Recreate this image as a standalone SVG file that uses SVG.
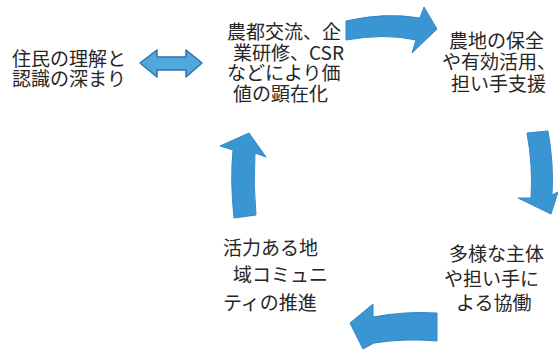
<svg xmlns="http://www.w3.org/2000/svg" width="558" height="349" viewBox="0 0 558 349">
<style>
text{font-family:"Noto Sans CJK JP","Noto Sans",sans-serif;font-size:19px;fill:#262626;}
.arr{fill:#3a95d3;stroke:#3388c8;stroke-width:1;}
.dbl{fill:#52a8dd;stroke:#2a74ad;stroke-width:1.5;stroke-linejoin:round;}
</style>
<rect width="558" height="349" fill="#ffffff"/>
<g id="connectors">
<path class="dbl" d="M140,63 L157,50 L157,57 L186,57 L186,50 L202,63 L186,77 L186,70 L157,70 L157,77 Z"/>
<path class="arr" d="M346,21 Q385,12 420,18 L424,7 L437,29 L412,53 L416,40 Q385,33 346,40 Z"/>
<path class="arr" d="M527,133 L548,131 Q554,165 552,195 L558,192 L551,214 L518,198 L531,198 Q533,165 527,133 Z"/>
<path class="arr" d="M437,313 L437,341 Q405,338 374,343 L363,349 L350,323 L373,304 L373,317 Q405,311 437,313 Z"/>
<path class="arr" d="M234,218 Q230,180 233,150 L220,146 L249,133 L266,157 L255,153 Q253,185 256,215 Z"/>
</g>
<g id="node-understanding">
<text x="12" y="65.5">住民の理解と</text>
<text x="12" y="86">認識の深まり</text>
</g>
<g id="node-value">
<text x="227" y="39">農都交流、企</text>
<text x="233" y="59.5">業研修、CSR</text>
<text x="227" y="80">などにより価</text>
<text x="233" y="100.5">値の顕在化</text>
</g>
<g id="node-farmland">
<text x="449" y="48">農地の保全</text>
<text x="442" y="69">や有効活用、</text>
<text x="451" y="91">担い手支援</text>
</g>
<g id="node-collab">
<text x="449" y="261">多様な主体</text>
<text x="444" y="286">や担い手に</text>
<text x="456" y="310">よる協働</text>
</g>
<g id="node-community">
<text x="223" y="255">活力ある地</text>
<text x="233" y="282">域コミュニ</text>
<text x="223" y="310">ティの推進</text>
</g>
</svg>
